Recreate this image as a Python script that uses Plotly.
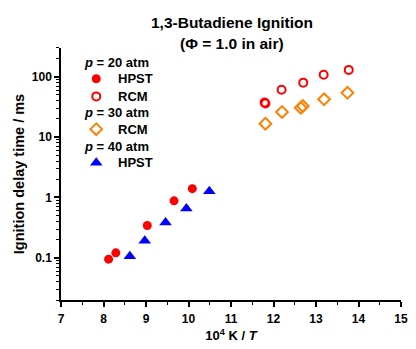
import plotly.graph_objects as go

# Data (10^4 K / T, ignition delay time in ms)
hpst20_x = [8.12, 8.29, 9.03, 9.66, 10.09]
hpst20_y = [0.095, 0.121, 0.343, 0.88, 1.40]

rcm20_x = [11.79, 11.81, 12.19, 12.70, 13.18, 13.77]
rcm20_y = [37.5, 36.0, 61.0, 80.0, 108.0, 130.0]

rcm30_x = [11.81, 12.20, 12.64, 12.69, 13.19, 13.74]
rcm30_y = [16.7, 26.1, 30.6, 32.7, 42.4, 54.2]

hpst40_x = [8.62, 8.97, 9.46, 9.95, 10.49]
hpst40_y = [0.106, 0.191, 0.385, 0.657, 1.27]

x_ticks = [7, 8, 9, 10, 11, 12, 13, 14, 15]
y_ticks = [0.1, 1, 10, 100]
y_tick_labels = ["0.1", "1", "10", "100"]

# Legend content (drawn inside the plot, top-left)
legend_titles = ["<i>p</i> = 20 atm", "<i>p</i> = 30 atm", "<i>p</i> = 40 atm"]
legend_labels = ["HPST", "RCM", "RCM", "HPST"]

RED = "#FF0000"
ORANGE = "#FF8000"
BLUE = "#0000FF"
FONT = "Arial, 'Liberation Sans', sans-serif"

series = [
    dict(x=hpst20_x, y=hpst20_y, name="HPST (20 atm)",
         marker=dict(symbol="circle", size=9, color=RED, line=dict(width=0))),
    dict(x=rcm20_x, y=rcm20_y, name="RCM (20 atm)",
         marker=dict(symbol="circle-open", size=8, color=RED, line=dict(width=2, color=RED))),
    dict(x=rcm30_x, y=rcm30_y, name="RCM (30 atm)",
         marker=dict(symbol="diamond-open", size=9, color=ORANGE, line=dict(width=2, color=ORANGE))),
    dict(x=hpst40_x, y=hpst40_y, name="HPST (40 atm)",
         marker=dict(symbol="triangle-up", size=11, color=BLUE, line=dict(width=0))),
]

fig = go.Figure()
for s in series:
    fig.add_trace(go.Scatter(x=s["x"], y=s["y"], mode="markers", name=s["name"],
                             marker=s["marker"], showlegend=False))

# Legend layout (fractions of the plot area)
title_x = 0.0605
sym_x = 0.1037
label_x = 0.161
title_y = [0.941, 0.745, 0.608]
label_y = [0.878, 0.808, 0.678, 0.545]

# legend symbols on an invisible overlay axis
for s, ly in zip(series, label_y):
    fig.add_trace(go.Scatter(x=[sym_x], y=[ly], mode="markers", marker=s["marker"],
                             xaxis="x2", yaxis="y2", showlegend=False, hoverinfo="skip"))

annotations = []
for t, ty in zip(legend_titles, title_y):
    annotations.append(dict(text="<b>" + t + "</b>", x=title_x, y=ty, xref="paper", yref="paper",
                            xanchor="left", yanchor="middle", showarrow=False,
                            font=dict(family=FONT, size=13, color="black")))
for t, ly in zip(legend_labels, label_y):
    annotations.append(dict(text="<b>" + t + "</b>", x=label_x, y=ly, xref="paper", yref="paper",
                            xanchor="left", yanchor="middle", showarrow=False,
                            font=dict(family=FONT, size=13, color="black")))
# chart title (two lines)
annotations.append(dict(text="<b>1,3-Butadiene Ignition</b>", x=0.504, y=1.102, xref="paper", yref="paper",
                        xanchor="center", yanchor="middle", showarrow=False,
                        font=dict(family=FONT, size=15.5, color="black")))
annotations.append(dict(text="<b>(Φ = 1.0 in air)</b>", x=0.504, y=1.016, xref="paper", yref="paper",
                        xanchor="center", yanchor="middle", showarrow=False,
                        font=dict(family=FONT, size=15.5, color="black")))

fig.update_layout(
    width=416, height=349,
    margin=dict(l=61, r=8, t=48, b=46),
    paper_bgcolor="white", plot_bgcolor="white",
    font=dict(family=FONT, size=12, color="black"),
    showlegend=False,
    annotations=annotations,
    xaxis=dict(
        range=[7, 15], tickvals=x_ticks, ticktext=["<b>%d</b>" % v for v in x_ticks],
        showgrid=False, zeroline=False, showline=True, linecolor="black", linewidth=1.5,
        ticks="outside", ticklen=5, tickwidth=1.5, tickcolor="black", ticklabelstandoff=2,
        tickfont=dict(family=FONT, size=12, color="black"),
        minor=dict(ticks="outside", ticklen=3, tickwidth=1, tickcolor="black", dtick=0.5, showgrid=False),
        title=dict(text="<b>10<sup>4</sup> K / <i>T</i></b>", standoff=6,
                   font=dict(family=FONT, size=13, color="black")),
    ),
    yaxis=dict(
        type="log", range=[-1.699, 2.477], tickvals=y_ticks,
        ticktext=["<b>" + t + "</b>" for t in y_tick_labels],
        showgrid=False, zeroline=False, showline=True, linecolor="black", linewidth=1.5,
        ticks="outside", ticklen=5, tickwidth=1.5, tickcolor="black",
        tickfont=dict(family=FONT, size=12, color="black"),
        minor=dict(ticks="outside", ticklen=3, tickwidth=1, tickcolor="black", dtick="D1", showgrid=False),
        title=dict(text="<b>Ignition delay time / ms</b>", standoff=4,
                   font=dict(family=FONT, size=14.5, color="black")),
    ),
    xaxis2=dict(overlaying="x", range=[0, 1], visible=False, fixedrange=True),
    yaxis2=dict(overlaying="y", range=[0, 1], visible=False, fixedrange=True),
)

fig.write_html("out.html")
